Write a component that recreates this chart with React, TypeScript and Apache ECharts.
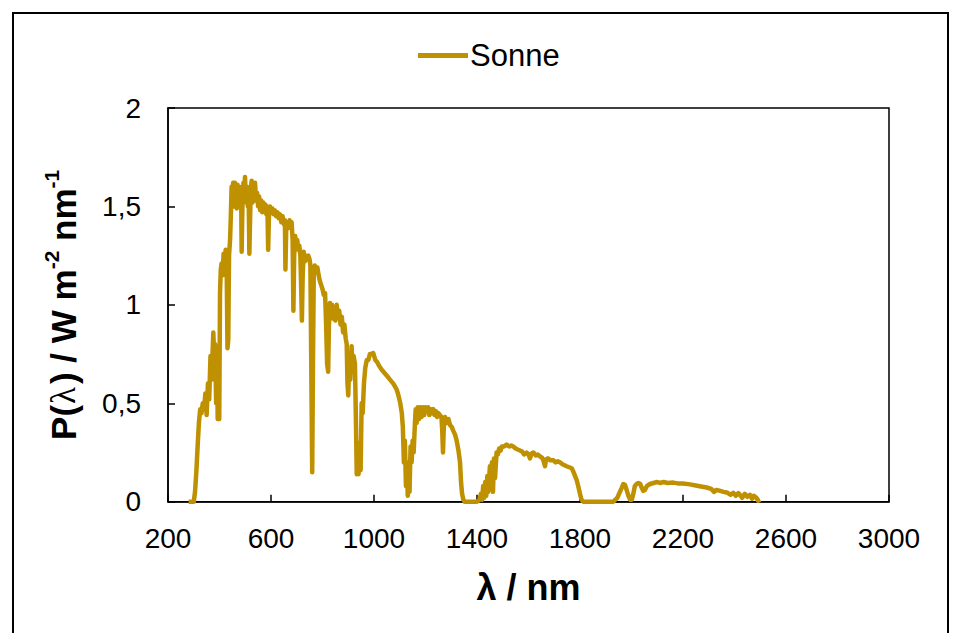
import { useEffect, useRef } from "react";
import * as echarts from "echarts";

const seriesName = "Sonne";
const xAxisTitle = "λ / nm";
const xMin = 200;
const xMax = 3000;
const xStep = 400;
const yMin = 0;
const yMax = 2;
const yStep = 0.5;

// wavelength (nm)
const wavelengths = [
  280, 300, 305, 310, 315, 320, 325, 330, 335, 340, 345, 350, 355, 360, 365, 370, 373, 376, 380, 383,
  387, 390, 393, 396, 399, 402, 405, 408, 412, 416, 420, 424, 428, 431, 434, 437, 441, 444, 447, 450,
  453, 456, 460, 463, 467, 470, 473, 477, 480, 484, 486, 489, 493, 496, 499, 503, 506, 510, 513, 516,
  519, 522, 525, 528, 532, 535, 538, 542, 546, 550, 554, 558, 562, 566, 570, 574, 578, 582, 586, 589,
  592, 596, 600, 605, 610, 615, 620, 625, 630, 635, 640, 645, 650, 654, 656, 659, 663, 668, 672, 676,
  680, 684, 687, 690, 694, 698, 702, 706, 710, 714, 717, 720, 723, 727, 731, 735, 740, 745, 750, 753,
  757, 760, 763, 766, 770, 775, 780, 785, 790, 795, 800, 805, 810, 814, 818, 822, 825, 829, 833, 837,
  841, 845, 850, 855, 860, 865, 870, 875, 880, 885, 890, 894, 897, 900, 904, 908, 913, 917, 921, 926,
  930, 933, 937, 940, 944, 948, 952, 956, 961, 966, 972, 978, 984, 990, 997, 1005, 1012, 1020, 1030, 1040,
  1050, 1062, 1075, 1088, 1095, 1102, 1108, 1112, 1116, 1120, 1124, 1128, 1131, 1135, 1138, 1142, 1146, 1150, 1154, 1159,
  1162, 1166, 1170, 1175, 1180, 1185, 1190, 1195, 1200, 1205, 1210, 1215, 1220, 1225, 1230, 1235, 1240, 1245, 1250, 1256,
  1262, 1265, 1268, 1271, 1276, 1282, 1289, 1295, 1302, 1308, 1315, 1321, 1328, 1334, 1338, 1342, 1347, 1352, 1400, 1410,
  1415, 1420, 1424, 1428, 1432, 1436, 1440, 1444, 1450, 1454, 1458, 1462, 1466, 1470, 1476, 1481, 1486, 1492, 1496, 1505,
  1515, 1525, 1533, 1541, 1550, 1558, 1567, 1575, 1583, 1593, 1600, 1606, 1612, 1619, 1628, 1636, 1645, 1652, 1658, 1664,
  1668, 1675, 1685, 1697, 1705, 1714, 1722, 1732, 1740, 1748, 1758, 1768, 1775, 1781, 1787, 1793, 1800, 1806, 1813, 1929,
  1945, 1955, 1962, 1968, 1975, 1981, 1988, 1995, 2001, 2007, 2013, 2020, 2027, 2034, 2040, 2046, 2052, 2060, 2072, 2085,
  2100, 2111, 2125, 2140, 2162, 2180, 2200, 2227, 2250, 2270, 2292, 2310, 2320, 2330, 2345, 2357, 2370, 2385, 2395, 2405,
  2415, 2421, 2430, 2440, 2450, 2460, 2468, 2475, 2485, 2492, 2500,
];

// spectral irradiance (W m^-2 nm^-1)
const irradiance = [
  0, 0, 0.05, 0.15, 0.28, 0.40, 0.47, 0.45, 0.50, 0.47, 0.55, 0.44, 0.60, 0.52, 0.74, 0.62, 0.75, 0.86, 0.70, 0.80,
  0.50, 0.78, 0.42, 0.60, 0.42, 1.06, 1.18, 1.21, 1.15, 1.26, 1.20, 1.28, 1.18, 0.78, 0.82, 1.25, 1.33, 1.45, 1.60, 1.55,
  1.62, 1.50, 1.62, 1.56, 1.49, 1.61, 1.52, 1.60, 1.55, 1.58, 1.27, 1.50, 1.62, 1.55, 1.65, 1.52, 1.60, 1.50, 1.58, 1.26,
  1.45, 1.60, 1.63, 1.52, 1.60, 1.54, 1.62, 1.53, 1.57, 1.50, 1.55, 1.48, 1.53, 1.47, 1.52, 1.48, 1.51, 1.46, 1.50, 1.28,
  1.45, 1.50, 1.47, 1.49, 1.46, 1.48, 1.45, 1.47, 1.44, 1.46, 1.42, 1.45, 1.41, 1.43, 1.18, 1.38, 1.42, 1.39, 1.43, 1.40,
  1.42, 1.33, 0.97, 1.25, 1.35, 1.30, 1.33, 1.28, 1.30, 1.25, 1.10, 0.92, 1.15, 1.27, 1.22, 1.25, 1.23, 1.25, 1.23, 1.20,
  0.60, 0.15, 0.70, 1.15, 1.20, 1.17, 1.19, 1.15, 1.12, 1.10, 1.08, 1.05, 1.06, 0.90, 0.70, 0.66, 0.90, 1.01, 0.95, 1.00,
  0.93, 0.98, 0.92, 1.00, 0.94, 0.97, 0.90, 0.94, 0.86, 0.90, 0.83, 0.80, 0.60, 0.54, 0.72, 0.62, 0.79, 0.66, 0.74, 0.70,
  0.40, 0.14, 0.30, 0.14, 0.25, 0.16, 0.50, 0.45, 0.60, 0.68, 0.72, 0.72, 0.75, 0.75, 0.755, 0.72, 0.71, 0.69, 0.67, 0.655,
  0.64, 0.62, 0.60, 0.57, 0.54, 0.50, 0.45, 0.38, 0.20, 0.31, 0.08, 0.20, 0.03, 0.15, 0.05, 0.28, 0.20, 0.31, 0.25, 0.40,
  0.47, 0.40, 0.48, 0.42, 0.48, 0.43, 0.48, 0.44, 0.48, 0.46, 0.48, 0.44, 0.47, 0.45, 0.47, 0.44, 0.46, 0.43, 0.45, 0.44,
  0.43, 0.36, 0.25, 0.38, 0.43, 0.40, 0.42, 0.39, 0.38, 0.36, 0.34, 0.31, 0.26, 0.20, 0.10, 0.04, 0.01, 0, 0, 0.01,
  0.04, 0.01, 0.08, 0.02, 0.10, 0.03, 0.13, 0.05, 0.18, 0.08, 0.20, 0.05, 0.22, 0.12, 0.25, 0.24, 0.27, 0.26, 0.28, 0.28,
  0.29, 0.28, 0.285, 0.28, 0.27, 0.265, 0.26, 0.255, 0.24, 0.25, 0.24, 0.22, 0.245, 0.25, 0.235, 0.24, 0.23, 0.225, 0.21, 0.18,
  0.215, 0.22, 0.21, 0.21, 0.20, 0.205, 0.20, 0.19, 0.185, 0.18, 0.175, 0.17, 0.15, 0.13, 0.11, 0.08, 0.04, 0.01, 0, 0,
  0.02, 0.05, 0.07, 0.09, 0.085, 0.06, 0.03, 0.01, 0.01, 0.04, 0.08, 0.09, 0.095, 0.09, 0.07, 0.055, 0.06, 0.08, 0.09, 0.095,
  0.10, 0.095, 0.10, 0.095, 0.097, 0.093, 0.092, 0.088, 0.082, 0.077, 0.072, 0.065, 0.05, 0.06, 0.055, 0.05, 0.047, 0.035, 0.045, 0.03,
  0.044, 0.035, 0.02, 0.04, 0.025, 0.035, 0.015, 0.03, 0.02, 0.005, 0.01,
];

const FONT = "'Liberation Sans', Arial, sans-serif";
const LINE_COLOR = "#BF9000";

export default function App() {
  const ref = useRef<HTMLDivElement>(null);

  useEffect(() => {
    document.body.style.margin = "0";
    if (!ref.current) return;
    const chart = echarts.init(ref.current, undefined, { renderer: "svg" });
    const data = wavelengths.map((w, i) => [w, irradiance[i]]);

    chart.setOption({
      animation: false,
      backgroundColor: "#ffffff",
      graphic: [
        {
          type: "rect",
          shape: { x: 13, y: 13, width: 935, height: 640 },
          style: { fill: "none", stroke: "#000", lineWidth: 2 },
          silent: true,
        },
      ],
      legend: {
        show: true,
        left: 413,
        top: 35,
        itemWidth: 50,
        itemHeight: 14,
        itemGap: 10,
        textStyle: { fontFamily: FONT, fontSize: 31, color: "#000", padding: [0, 0, 0, -3] },
        data: [{ name: seriesName, icon: "path://M0,5 L50,5 L50,10 L0,10 Z" }],
      },
      grid: {
        left: 168,
        top: 108,
        width: 721,
        height: 393.7,
        show: true,
        borderColor: "#000",
        borderWidth: 1.5,
        backgroundColor: "transparent",
      },
      xAxis: {
        type: "value",
        min: xMin,
        max: xMax,
        interval: xStep,
        name: xAxisTitle,
        nameLocation: "middle",
        nameGap: 68,
        nameTextStyle: { fontFamily: FONT, fontSize: 36, fontWeight: "bold", color: "#000" },
        axisLine: { show: true, lineStyle: { color: "#000", width: 1.5 } },
        axisTick: { show: true, inside: true, length: 7, lineStyle: { color: "#000", width: 1.5 } },
        axisLabel: {
          fontFamily: FONT,
          fontSize: 28,
          color: "#000",
          margin: 23,
          formatter: (v: number) => String(v),
        },
        splitLine: { show: false },
      },
      yAxis: {
        type: "value",
        min: yMin,
        max: yMax,
        interval: yStep,
        name: "{b|P(}{l|λ}{b|) / W m}{s|-2}{b| nm}{s|-1}",
        nameLocation: "middle",
        nameGap: 87,
        nameRotate: 90,
        nameTextStyle: {
          fontFamily: FONT,
          fontSize: 35,
          fontWeight: "bold",
          color: "#000",
          rich: {
            b: { fontFamily: FONT, fontSize: 35, fontWeight: "bold", color: "#000", lineHeight: 40, verticalAlign: "bottom" },
            l: { fontFamily: "'Liberation Serif', serif", fontSize: 35, fontWeight: "normal", color: "#000", lineHeight: 40, verticalAlign: "bottom", padding: [0, 3, 0, 1] },
            s: { fontFamily: FONT, fontSize: 21, fontWeight: "bold", color: "#000", lineHeight: 40, verticalAlign: "top" },
          },
        },
        axisLine: { show: true, lineStyle: { color: "#000", width: 1.5 } },
        axisTick: { show: true, inside: true, length: 7, lineStyle: { color: "#000", width: 1.5 } },
        axisLabel: {
          fontFamily: FONT,
          fontSize: 28,
          color: "#000",
          margin: 27,
          formatter: (v: number) => String(v).replace(".", ","),
        },
        splitLine: { show: false },
      },
      series: [
        {
          name: seriesName,
          type: "line",
          data,
          showSymbol: false,
          symbol: "none",
          clip: true,
          lineStyle: { color: LINE_COLOR, width: 4.5, join: "round" },
          itemStyle: { color: LINE_COLOR },
        },
      ],
    });

    return () => chart.dispose();
  }, []);

  return <div ref={ref} style={{ width: 956, height: 633 }} />;
}
